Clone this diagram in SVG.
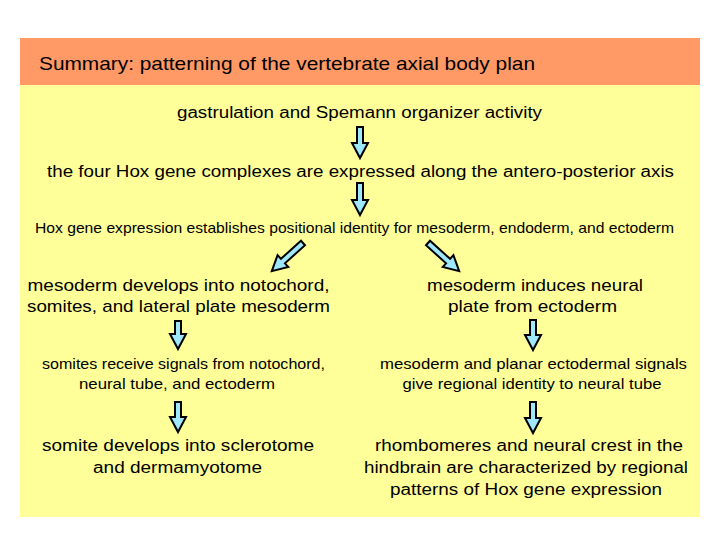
<svg xmlns="http://www.w3.org/2000/svg" width="720" height="540" viewBox="0 0 720 540">
<defs>
<style>
text{font-family:"Liberation Sans",Arial,Helvetica,sans-serif;fill:#000;}
.t{font-size:16px;text-anchor:middle;}
.s{font-size:14.5px;text-anchor:middle;}
.b{font-size:17px;text-anchor:middle;}
.arrow{fill:#9fe8fc;stroke:#000;stroke-width:2;stroke-linejoin:miter;}
</style>
</defs>
<rect x="0" y="0" width="720" height="540" fill="#ffffff"/>
<g id="panel">
<rect x="20" y="85" width="680" height="432" fill="#ffff99"/>
<rect x="20" y="38" width="680" height="47" fill="#ff9966"/>
<text x="39" y="70" font-size="18.5" textLength="496" lengthAdjust="spacingAndGlyphs">Summary: patterning of the vertebrate axial body plan</text>
</g>
<g id="connectors">
<path class="arrow" d="M357,127 H363 V143 H368 L360,158 L352,143 H357 Z"/>
<path class="arrow" d="M357,183 H363 V200 H368 L360,215 L352,200 H357 Z"/>
<path class="arrow" transform="translate(303,243) rotate(48)" d="M-3,0 H3 V27 H8 L0,42 L-8,27 H-3 Z"/>
<path class="arrow" transform="translate(428,243) rotate(-48)" d="M-3,0 H3 V27 H8 L0,42 L-8,27 H-3 Z"/>
<path class="arrow" d="M175,321 H181 V334 H186 L178,349 L170,334 H175 Z"/>
<path class="arrow" d="M175,402 H181 V417 H186 L178,432 L170,417 H175 Z"/>
<path class="arrow" d="M530,320 H536 V335 H541 L533,350 L525,335 H530 Z"/>
<path class="arrow" d="M530,402 H536 V418 H541 L533,433 L525,418 H530 Z"/>
</g>
<g id="gastrulation">
<text class="t" x="359.5" y="118" textLength="365" lengthAdjust="spacingAndGlyphs">gastrulation and Spemann organizer activity</text>
</g>
<g id="hox-complexes">
<text class="t" x="360.5" y="177" textLength="627" lengthAdjust="spacingAndGlyphs">the four Hox gene complexes are expressed along the antero-posterior axis</text>
</g>
<g id="hox-expression">
<text class="s" x="354.5" y="233" textLength="639" lengthAdjust="spacingAndGlyphs">Hox gene expression establishes positional identity for mesoderm, endoderm, and ectoderm</text>
</g>
<g id="mesoderm-develops">
<text class="b" x="178.5" y="291" textLength="302" lengthAdjust="spacingAndGlyphs">mesoderm develops into notochord,</text>
<text class="b" x="178.5" y="312" textLength="303" lengthAdjust="spacingAndGlyphs">somites, and lateral plate mesoderm</text>
</g>
<g id="mesoderm-induces">
<text class="b" x="535" y="291" textLength="216" lengthAdjust="spacingAndGlyphs">mesoderm induces neural</text>
<text class="b" x="532.5" y="312" textLength="169" lengthAdjust="spacingAndGlyphs">plate from ectoderm</text>
</g>
<g id="somites-receive">
<text class="s" x="183.5" y="369" textLength="283" lengthAdjust="spacingAndGlyphs">somites receive signals from notochord,</text>
<text class="s" x="177" y="389" textLength="196" lengthAdjust="spacingAndGlyphs">neural tube, and ectoderm</text>
</g>
<g id="regional-identity">
<text class="s" x="533.5" y="369" textLength="307" lengthAdjust="spacingAndGlyphs">mesoderm and planar ectodermal signals</text>
<text class="s" x="532" y="389" textLength="259" lengthAdjust="spacingAndGlyphs">give regional identity to neural tube</text>
</g>
<g id="somite-develops">
<text class="t" x="178" y="451" textLength="272" lengthAdjust="spacingAndGlyphs">somite develops into sclerotome</text>
<text class="t" x="177.5" y="473" textLength="169" lengthAdjust="spacingAndGlyphs">and dermamyotome</text>
</g>
<g id="rhombomeres">
<text class="t" x="529" y="451" textLength="308" lengthAdjust="spacingAndGlyphs">rhombomeres and neural crest in the</text>
<text class="t" x="526" y="473" textLength="324" lengthAdjust="spacingAndGlyphs">hindbrain are characterized by regional</text>
<text class="t" x="526" y="495" textLength="272" lengthAdjust="spacingAndGlyphs">patterns of Hox gene expression</text>
</g>
</svg>
